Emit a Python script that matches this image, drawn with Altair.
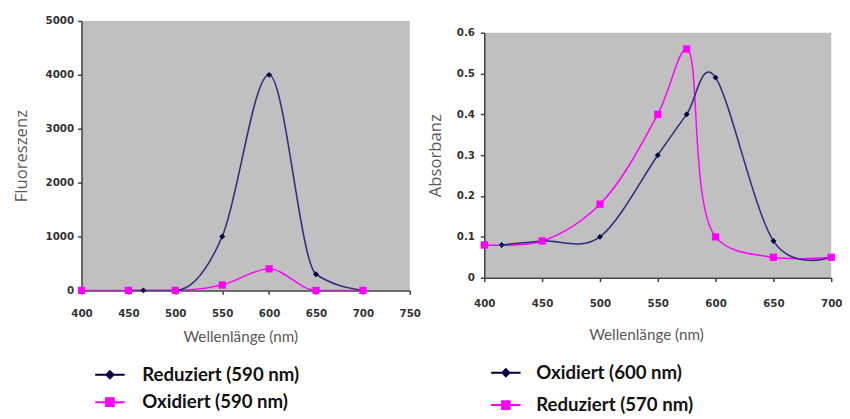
import altair as alt
import pandas as pd

# ---------------- data ----------------
# left panel (Fluoreszenz)
fl_series = ["Reduziert (590 nm)", "Oxidiert (590 nm)"]
fl_red_wl = [450, 466, 500, 550, 600, 650, 700]
fl_red_val = [0, 0, 0, 1000, 4000, 300, 0]
fl_ox_wl = [400, 450, 500, 550, 600, 650, 700]
fl_ox_val = [0, 0, 0, 100, 400, 0, 0]
fl_xticks = [400, 450, 500, 550, 600, 650, 700, 750]
fl_yticks = [0, 1000, 2000, 3000, 4000, 5000]

# right panel (Absorbanz)
ab_series = ["Oxidiert (600 nm)", "Reduziert (570 nm)"]
ab_ox_wl = [415, 450, 500, 550, 575, 600, 650, 700]
ab_ox_val = [0.08, 0.09, 0.10, 0.30, 0.40, 0.49, 0.09, 0.05]
ab_red_wl = [400, 450, 500, 550, 575, 600, 650, 700]
ab_red_val = [0.08, 0.09, 0.18, 0.40, 0.56, 0.10, 0.05, 0.05]
ab_xticks = [400, 450, 500, 550, 600, 650, 700]
ab_yticks = [0, 0.1, 0.2, 0.3, 0.4, 0.5, 0.6]

# ---------------- styles ----------------
NAVY_LINE = "#2e2e7a"
NAVY_MARK = "#000040"
PINK = "#ff00ff"
DIAMOND_LEG = "M-1,0H1M0,-0.24L0.24,0L0,0.24L-0.24,0Z"
SQUARE_LEG = "M-1,0H1M-0.26,-0.26H0.26V0.26H-0.26Z"
AX_COL = "#404040"
PLOT_BG = "#c0c0c0"


def frame(series, wl_a, val_a, wl_b, val_b):
    rows = [{"wl": w, "val": v, "series": series[0]} for w, v in zip(wl_a, val_a)]
    rows += [{"wl": w, "val": v, "series": series[1]} for w, v in zip(wl_b, val_b)]
    return pd.DataFrame(rows)


def panel(df, series, xdom, xticks, ydom, yticks, ytitle, yfmt, width, height,
          xlabpad, ylabpad, ytitlepad, xtitlex, xtitley, legx, legy, rowpad, laboff,
          blue_interp, pink_interp):
    blue_name, pink_name = series[0], series[1]
    x = alt.X("wl:Q", scale=alt.Scale(domain=xdom, nice=False, zero=False),
              axis=alt.Axis(values=xticks, title="Wellenlänge (nm)", grid=False,
                            labelFlush=False, labelPadding=xlabpad,
                            titleX=xtitlex, titleY=xtitley, titleBaseline="middle",
                            titleFont="Lato", titleFontSize=15.5))
    y = alt.Y("val:Q", scale=alt.Scale(domain=ydom, nice=False),
              axis=alt.Axis(values=yticks, format=yfmt, title=ytitle, grid=False,
                            labelFlush=False, labelPadding=ylabpad,
                            titlePadding=ytitlepad, titleFont="Open Sans",
                            titleFontSize=17))
    base = alt.Chart(df).encode(x=x, y=y)
    pink_line = base.transform_filter(alt.datum.series == pink_name).mark_line(
        interpolate=pink_interp, color=PINK, strokeWidth=1.5, clip=True)
    blue_line = base.transform_filter(alt.datum.series == blue_name).mark_line(
        interpolate=blue_interp, color=NAVY_LINE, strokeWidth=1.6, clip=True)
    blue_pts = base.transform_filter(alt.datum.series == blue_name).mark_point(
        shape="diamond", filled=True, size=36, color=NAVY_MARK, opacity=1)
    pink_pts = base.transform_filter(alt.datum.series == pink_name).mark_point(
        shape="square", filled=True, size=55, color=PINK, opacity=1)
    leg = alt.Legend(title=None, orient="none", legendX=legx, legendY=legy,
                     symbolSize=900, symbolStrokeWidth=2, symbolOpacity=1,
                     labelFont="Lato", labelFontWeight="bold", labelFontSize=19,
                     labelColor="#111111", labelOffset=laboff, rowPadding=rowpad,
                     padding=0, labelLimit=0)
    col_range = [NAVY_MARK, PINK]
    shp_range = [DIAMOND_LEG, SQUARE_LEG]
    legend_layer = base.mark_point(filled=True, opacity=0).encode(
        fill=alt.Fill("series:N", scale=alt.Scale(domain=series, range=col_range), legend=leg),
        stroke=alt.Stroke("series:N", scale=alt.Scale(domain=series, range=col_range), legend=leg),
        shape=alt.Shape("series:N", scale=alt.Scale(domain=series, range=shp_range), legend=leg),
    )
    return alt.layer(pink_line, blue_line, blue_pts, pink_pts, legend_layer).properties(
        width=width, height=height,
        view=alt.ViewBackground(fill=PLOT_BG, stroke=None))


fl_df = frame(fl_series, fl_red_wl, fl_red_val, fl_ox_wl, fl_ox_val)
ab_df = frame(ab_series, ab_ox_wl, ab_ox_val, ab_red_wl, ab_red_val)

left = panel(fl_df, fl_series, [400, 750], fl_xticks, [0, 5000], fl_yticks,
             "Fluoreszenz", "d", 335, 275, 15, 4, 15, 162, 47, 13, 345, 2, 17,
             "monotone", "monotone")
# legend of the right panel is placed relative to the right column (spacer on top)
right = panel(ab_df, ab_series, [400, 700], ab_xticks, [0, 0.6], ab_yticks,
              "Absorbanz", "~g", 354, 250, 17, 6, 12, 165, 58, 6, 343, 7, 15,
              "cardinal", "catmull-rom")

# invisible spacer that lowers the right panel
spacer_df = pd.DataFrame({"v": [0]})
spacer = alt.Chart(spacer_df).mark_point(opacity=0).encode(
    x=alt.value(0), y=alt.value(0)).properties(
    width=1, height=7, view=alt.ViewBackground(fill="transparent", stroke=None))

right_col = alt.vconcat(spacer, right, spacing=0)

chart = alt.hconcat(left, right_col, spacing=6).resolve_scale(
    fill="independent", stroke="independent", shape="independent"
).resolve_legend(fill="independent", stroke="independent", shape="independent").properties(
    padding={"left": 4, "top": 4, "right": 0, "bottom": 0}
).configure_view(stroke=None).configure_axis(
    domainColor=AX_COL, domainWidth=1.5, tickColor=AX_COL, tickWidth=1.5, tickSize=4,
    labelFont="DejaVu Sans", labelFontSize=10.5, labelFontWeight="bold", labelColor="#333333",
    titleFontWeight="normal", titleColor="#595959",
)

chart.save("out.html", embed_options={"renderer": "svg", "actions": False})
